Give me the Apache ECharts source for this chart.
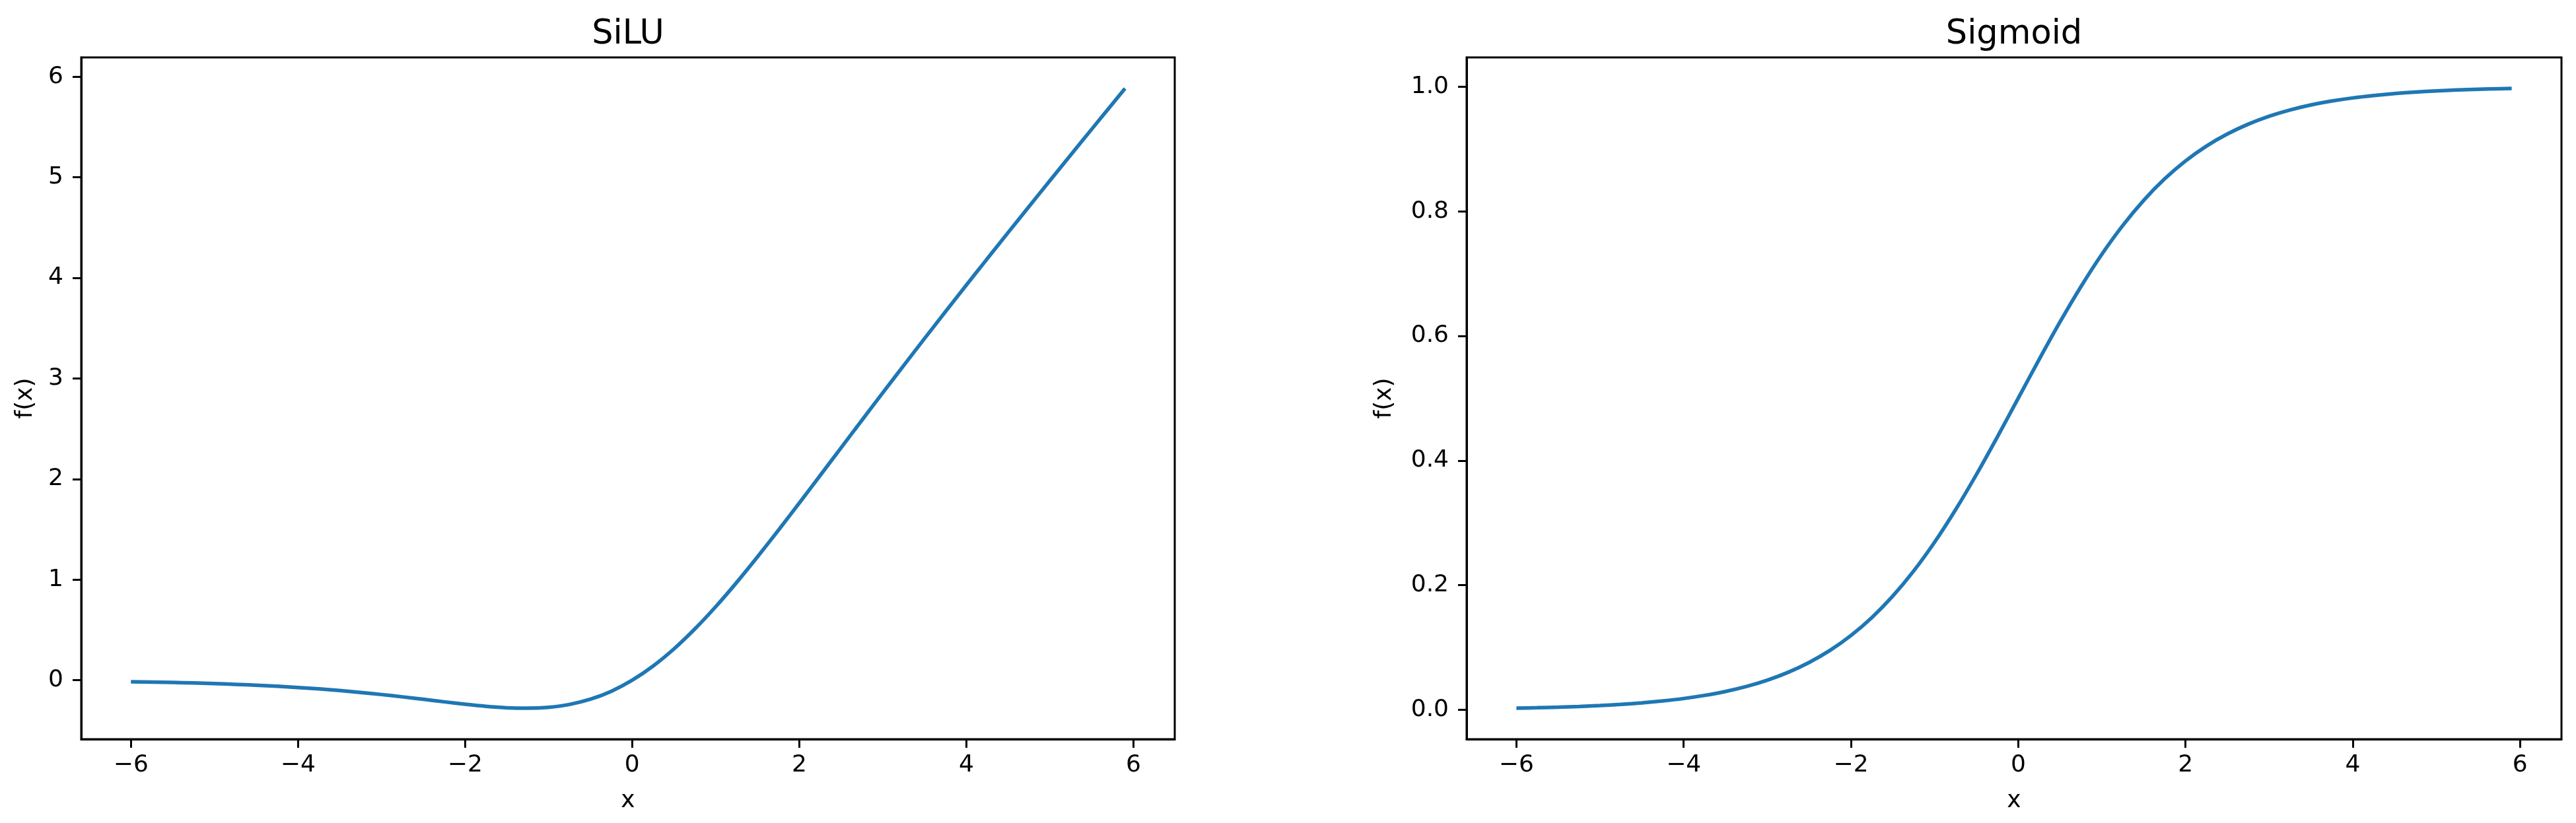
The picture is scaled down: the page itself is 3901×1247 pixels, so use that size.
<!DOCTYPE html>
<html>
<head>
<meta charset="utf-8">
<title>SiLU and Sigmoid</title>
<script src="https://cdn.jsdelivr.net/npm/echarts@6.0.0/dist/echarts.min.js"></script>
<style>
  html, body { margin: 0; padding: 0; background: #fff; }
  #chart { width: 3901px; height: 1247px; }
</style>
</head>
<body>
<div id="chart"></div>
<script>
// x samples
const xs = [-6, -5.75, -5.5, -5.25, -5, -4.75, -4.5, -4.25, -4, -3.75, -3.5, -3.25,
  -3, -2.75, -2.5, -2.25, -2, -1.75, -1.5, -1.25, -1, -0.75, -0.5, -0.25,
  0, 0.25, 0.5, 0.75, 1, 1.25, 1.5, 1.75, 2, 2.25, 2.5, 2.75,
  3, 3.25, 3.5, 3.75, 4, 4.25, 4.5, 4.75, 5, 5.25, 5.5, 5.75, 5.9];

const siluY = [-0.0148, -0.0182, -0.0224, -0.0274, -0.0335, -0.0407, -0.0494, -0.0598,
  -0.0719, -0.0862, -0.1026, -0.1213, -0.1423, -0.1652, -0.1896, -0.2145,
  -0.2384, -0.2591, -0.2736, -0.2784, -0.2689, -0.2406, -0.1888, -0.1095,
  0, 0.1405, 0.3112, 0.5094, 0.7311, 0.9716, 1.2264, 1.4909, 1.7616, 2.0355,
  2.3104, 2.5848, 2.8577, 3.1287, 3.3974, 3.6638, 3.9281, 4.1902, 4.4506,
  4.7093, 4.9665, 5.2226, 5.4776, 5.7318, 5.8839];

const sigmoidY = [0.0025, 0.0032, 0.0041, 0.0052, 0.0067, 0.0086, 0.0110, 0.0141,
  0.0180, 0.0230, 0.0293, 0.0373, 0.0474, 0.0601, 0.0759, 0.0953, 0.1192,
  0.1480, 0.1824, 0.2227, 0.2689, 0.3208, 0.3775, 0.4378, 0.5, 0.5622,
  0.6225, 0.6792, 0.7311, 0.7773, 0.8176, 0.8520, 0.8808, 0.9047, 0.9241,
  0.9399, 0.9526, 0.9627, 0.9707, 0.9770, 0.9820, 0.9859, 0.9890, 0.9914,
  0.9933, 0.9948, 0.9959, 0.9968, 0.9973];

const xTicks = [-6, -4, -2, 0, 2, 4, 6];
const siluTicks = [0, 1, 2, 3, 4, 5, 6];
const sigmoidTicks = [0, 0.2, 0.4, 0.6, 0.8, 1.0];

const font = 'DejaVu Sans';
const lineColor = '#1f77b4';

function pairs(ys) {
  return xs.map((x, i) => [x, ys[i]]);
}

function fmtMinus(v) {
  return String(v).replace('-', '\u2212');
}

function xAxisOf(gridIndex) {
  return {
    type: 'value',
    gridIndex: gridIndex,
    min: -6.595,
    max: 6.495,
    name: 'x',
    nameLocation: 'middle',
    nameGap: 76,
    nameTextStyle: { fontFamily: font, fontSize: 36, color: '#000' },
    axisLine: { show: true, onZero: false, lineStyle: { color: '#000', width: 3 } },
    splitLine: { show: false },
    axisTick: { show: true, customValues: xTicks, length: 13, lineStyle: { color: '#000', width: 3 } },
    axisLabel: { customValues: xTicks, fontFamily: font, fontSize: 36, color: '#000', margin: 22, formatter: fmtMinus }
  };
}

function yAxisOf(gridIndex, min, max, ticks, fmt) {
  return {
    type: 'value',
    gridIndex: gridIndex,
    min: min,
    max: max,
    name: 'f(x)',
    nameLocation: 'middle',
    nameGap: gridIndex === 0 ? 66 : 106,
    nameTextStyle: { fontFamily: font, fontSize: 36, color: '#000' },
    axisLine: { show: true, onZero: false, lineStyle: { color: '#000', width: 3 } },
    splitLine: { show: false },
    axisTick: { show: true, customValues: ticks, length: 13, lineStyle: { color: '#000', width: 3 } },
    axisLabel: { customValues: ticks, fontFamily: font, fontSize: 36, color: '#000', margin: 27, formatter: fmt }
  };
}

const chart = echarts.init(document.getElementById('chart'));

const option = {
  animation: false,
  backgroundColor: '#fff',
  graphic: [
    { type: 'text', style: { text: 'SiLU', x: 951, y: 53, textAlign: 'center', textVerticalAlign: 'middle', font: '51px "DejaVu Sans"', fill: '#000' } },
    { type: 'text', style: { text: 'Sigmoid', x: 3050, y: 53, textAlign: 'center', textVerticalAlign: 'middle', font: '51px "DejaVu Sans"', fill: '#000' } }
  ],
  grid: [
    { left: 123, right: 2122, top: 87, bottom: 127, show: true, borderColor: '#000', borderWidth: 3, backgroundColor: 'transparent' },
    { left: 2221, right: 22, top: 87, bottom: 127, show: true, borderColor: '#000', borderWidth: 3, backgroundColor: 'transparent' }
  ],
  xAxis: [xAxisOf(0), xAxisOf(1)],
  yAxis: [
    yAxisOf(0, -0.586, 6.192, siluTicks, fmtMinus),
    yAxisOf(1, -0.0473, 1.047, sigmoidTicks, v => v.toFixed(1))
  ],
  series: [
    {
      name: 'SiLU', type: 'line', xAxisIndex: 0, yAxisIndex: 0,
      data: pairs(siluY), showSymbol: false, smooth: 0.25,
      lineStyle: { color: lineColor, width: 5.5 }
    },
    {
      name: 'Sigmoid', type: 'line', xAxisIndex: 1, yAxisIndex: 1,
      data: pairs(sigmoidY), showSymbol: false, smooth: 0.25,
      lineStyle: { color: lineColor, width: 5.5 }
    }
  ]
};

chart.setOption(option);
</script>
</body>
</html>
